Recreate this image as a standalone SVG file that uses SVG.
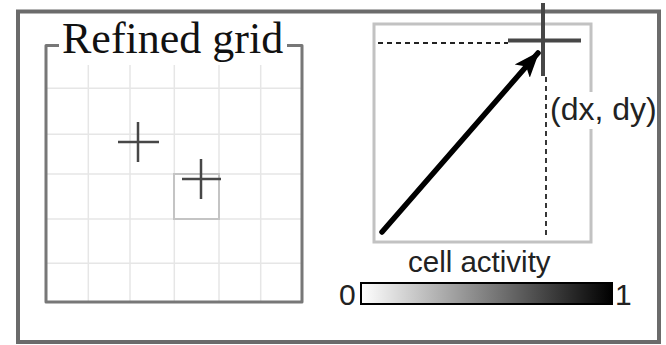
<svg xmlns="http://www.w3.org/2000/svg" width="666" height="345" viewBox="0 0 666 345">
<style>
.grid{stroke:#e6e6e6;stroke-width:1.5;fill:none}
.cross{stroke:#474747;fill:none}
.dash{stroke:#222;stroke-width:1.8;stroke-dasharray:5 4;fill:none}
.sans{font-family:"Liberation Sans",Arial,sans-serif;fill:#222}
</style>
<defs>
<linearGradient id="cb" x1="0" y1="0" x2="1" y2="0">
<stop offset="0" stop-color="#fff"/>
<stop offset="1" stop-color="#000"/>
</linearGradient>
<marker id="ah" markerUnits="userSpaceOnUse" markerWidth="30" markerHeight="30" refX="24" refY="12" orient="auto">
<path d="M0,2 L26,12 L0,22 L6,12 Z" fill="#000"/>
</marker>
</defs>
<rect width="666" height="345" fill="#fff"/>
<rect id="frame" x="18" y="11.5" width="641" height="330.5" fill="none" stroke="#6b6b6b" stroke-width="4"/>
<g id="refined-grid">
<g class="grid">
<line x1="88.3" y1="65" x2="88.3" y2="302"/>
<line x1="130" y1="65" x2="130" y2="302"/>
<line x1="174.3" y1="65" x2="174.3" y2="302"/>
<line x1="219" y1="65" x2="219" y2="302"/>
<line x1="260.7" y1="65" x2="260.7" y2="302"/>
<line x1="46" y1="88.3" x2="302" y2="88.3"/>
<line x1="46" y1="134.3" x2="302" y2="134.3"/>
<line x1="46" y1="174" x2="302" y2="174"/>
<line x1="46" y1="219" x2="302" y2="219"/>
<line x1="46" y1="263.3" x2="302" y2="263.3"/>
</g>
<path d="M59,45.5 H46 V302 H302 V45.5 H287" fill="none" stroke="#777" stroke-width="3" stroke-linejoin="round"/>
<text x="62" y="53" font-family="'Liberation Serif','Times New Roman',serif" font-size="44" fill="#111">Refined grid</text>
<rect x="174" y="174" width="45" height="45" fill="none" stroke="#c4c4c4" stroke-width="2"/>
<path class="cross" stroke-width="2.5" d="M118,142 H159 M138,122 V162"/>
<path class="cross" stroke-width="2.5" d="M182,179 H221 M201,159 V199"/>
</g>
<g id="offset-panel">
<rect x="374" y="24" width="217" height="218" fill="none" stroke="#c2c2c2" stroke-width="3"/>
<rect x="549" y="92" width="108" height="37" fill="#fff"/>
<text class="sans" x="550" y="120" font-size="32">(dx, dy)</text>
</g>
<g id="connectors">
<line class="dash" x1="378" y1="43" x2="508" y2="43"/>
<line class="dash" x1="546" y1="77" x2="546" y2="238"/>
<line x1="382" y1="232" x2="538" y2="53" stroke="#000" stroke-width="5.5" stroke-linecap="round" marker-end="url(#ah)"/>
</g>
<g id="big-cross">
<path class="cross" stroke-width="4" d="M508,40.5 H581 M543,3 V76"/>
</g>
<g id="colorbar">
<text class="sans" x="408" y="272" font-size="29.5">cell activity</text>
<rect x="361" y="283" width="251" height="21" fill="url(#cb)" stroke="#000" stroke-width="2"/>
<text class="sans" x="339" y="305" font-size="30">0</text>
<text class="sans" x="615" y="305" font-size="30">1</text>
</g>
</svg>
